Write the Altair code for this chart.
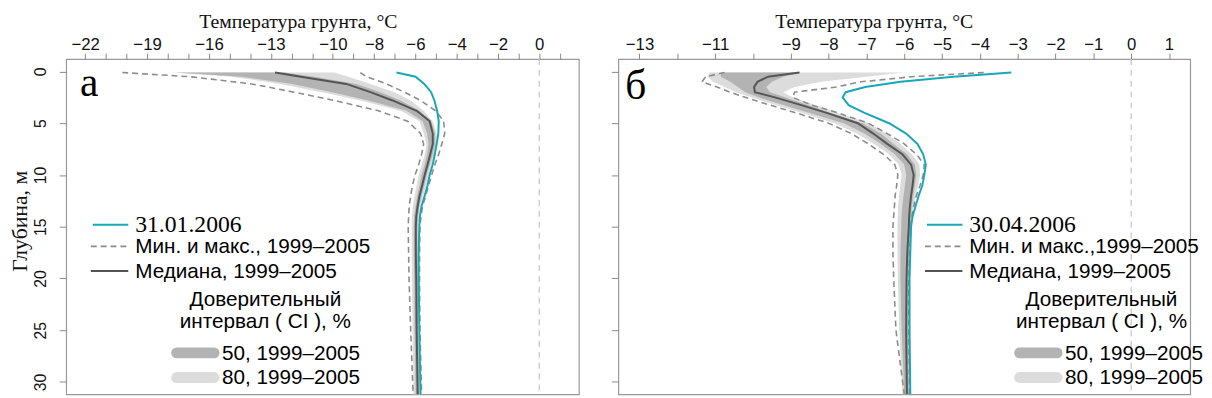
import altair as alt
import pandas as pd

# ---------------- Panel а : 31.01.2006 ----------------
depth_a = [0.1, 0.5, 1.2, 2.0, 2.8, 3.8, 4.8, 6.0, 7.0, 8.0, 9.0, 10.0, 11.0, 12.0, 13.0, 14.0, 15.0, 17.5, 20.0, 25.0, 31.2]
obs_a = [-6.92, -5.99, -5.57, -5.24, -5.08, -4.95, -4.87, -4.89, -4.97, -5.06, -5.16, -5.31, -5.41, -5.55, -5.70, -5.78, -5.81, -5.84, -5.84, -5.81, -5.75]
med_a = [-12.8, -11.55, -9.35, -8.18, -7.11, -5.94, -5.31, -5.16, -5.16, -5.28, -5.41, -5.55, -5.67, -5.80, -5.89, -5.96, -5.98, -5.98, -5.96, -5.94, -5.89]
min_a = [-20.2, -16.95, -13.93, -11.88, -9.93, -7.79, -6.38, -5.75, -5.60, -5.70, -5.84, -6.02, -6.14, -6.23, -6.30, -6.33, -6.35, -6.33, -6.31, -6.23, -6.11]
max_a = [-8.67, -8.38, -7.40, -6.53, -5.75, -5.02, -4.63, -4.58, -4.72, -4.87, -5.06, -5.21, -5.36, -5.50, -5.65, -5.73, -5.78, -5.80, -5.80, -5.78, -5.70]
p10_a = [-17.8, -14.90, -12.56, -10.52, -8.67, -6.72, -5.80, -5.60, -5.47, -5.55, -5.70, -5.84, -5.94, -6.04, -6.12, -6.17, -6.18, -6.18, -6.17, -6.14, -6.09]
p25_a = [-17.6, -14.42, -11.98, -10.03, -8.28, -6.43, -5.65, -5.43, -5.36, -5.43, -5.55, -5.70, -5.80, -5.91, -5.99, -6.06, -6.08, -6.08, -6.06, -6.04, -5.99]
p75_a = [-12.35, -10.91, -8.86, -7.69, -6.72, -5.80, -5.24, -5.05, -5.05, -5.16, -5.31, -5.45, -5.57, -5.70, -5.81, -5.87, -5.90, -5.90, -5.88, -5.86, -5.81]
p90_a = [-9.93, -9.25, -8.18, -7.01, -6.23, -5.60, -5.16, -4.97, -4.92, -5.05, -5.21, -5.36, -5.47, -5.62, -5.75, -5.81, -5.84, -5.84, -5.82, -5.81, -5.75]
xticks_a = [-22, -21, -20, -19, -18, -17, -16, -15, -14, -13, -12, -11, -10, -9, -8, -7, -6, -5, -4, -3, -2, -1, 0, 1]
xlabels_a = [-22, -19, -16, -13, -10, -8, -6, -4, -2, 0]

# ---------------- Panel б : 30.04.2006 ----------------
depth_b = [0.1, 0.5, 1.0, 1.5, 2.0, 2.5, 3.25, 4.0, 5.0, 6.0, 7.0, 8.0, 9.0, 10.0, 11.0, 12.0, 13.0, 14.0, 15.0, 17.5, 20.0, 25.0, 31.2]
obs_b = [-3.17, -4.7, -6.1, -7.03, -7.55, -7.63, -7.47, -7.05, -6.4, -5.95, -5.65, -5.5, -5.43, -5.47, -5.52, -5.62, -5.7, -5.78, -5.82, -5.84, -5.86, -5.86, -5.84]
med_b = [-8.77, -9.6, -9.88, -9.97, -9.95, -9.42, -8.72, -8.05, -7.23, -6.82, -6.45, -6.05, -5.82, -5.75, -5.78, -5.82, -5.85, -5.87, -5.88, -5.92, -5.94, -5.95, -5.93]
min_b = [-10.75, -11.25, -11.35, -10.95, -10.6, -10.2, -9.55, -8.86, -8.0, -7.4, -6.95, -6.55, -6.25, -6.17, -6.2, -6.24, -6.26, -6.28, -6.3, -6.3, -6.28, -6.22, -6.0]
max_b = [-3.9, -5.8, -7.15, -7.8, -8.9, -8.95, -8.45, -7.75, -6.95, -6.45, -6.0, -5.68, -5.47, -5.5, -5.58, -5.68, -5.75, -5.8, -5.83, -5.86, -5.88, -5.88, -5.86]
p10_b = [-11.15, -11.2, -11.05, -10.75, -10.45, -10.05, -9.4, -8.7, -7.85, -7.25, -6.8, -6.4, -6.15, -6.07, -6.1, -6.14, -6.16, -6.17, -6.18, -6.18, -6.17, -6.13, -6.05]
p25_b = [-10.85, -10.85, -10.6, -10.4, -10.2, -9.85, -9.2, -8.5, -7.6, -7.05, -6.62, -6.25, -6.0, -5.95, -5.98, -6.02, -6.05, -6.07, -6.08, -6.1, -6.1, -6.07, -6.0]
p75_b = [-8.75, -9.2, -9.5, -9.65, -9.55, -9.15, -8.55, -7.95, -7.1, -6.62, -6.28, -5.93, -5.72, -5.68, -5.72, -5.76, -5.8, -5.82, -5.84, -5.87, -5.89, -5.9, -5.88]
p90_b = [-6.0, -7.0, -8.2, -8.9, -9.2, -8.95, -8.35, -7.75, -6.92, -6.48, -6.1, -5.8, -5.6, -5.58, -5.63, -5.7, -5.76, -5.79, -5.81, -5.84, -5.86, -5.87, -5.85]
xticks_b = [-13, -12, -11, -10, -9, -8, -7, -6, -5, -4, -3, -2, -1, 0, 1]
xlabels_b = [-13, -11, -9, -8, -7, -6, -5, -4, -3, -2, -1, 0, 1]

depth_ticks = [0, 5, 10, 15, 20, 25, 30]

SERIF = "Liberation Serif"
SANS = "Liberation Sans"
CYAN = "#17a8b7"
MED = "#555555"
MINMAX = "#8c8c8c"
CI50 = "#b3b3b3"
CI80 = "#dcdcdc"
ZERO = "#c8c8c8"


def label_expr(labels):
    arr = ",".join(str(v) for v in labels)
    return f"indexof([{arr}], datum.value) >= 0 ? format(datum.value, 'd') : ''"


def one():
    return pd.DataFrame({"k": [0]})


def text_mark(txt, x, y, font, size, align="left"):
    return alt.Chart(one()).mark_text(
        text=txt, font=font, fontSize=size, align=align, baseline="middle", color="black"
    ).encode(x=alt.value(x), y=alt.value(y))


def sample_line(x1, x2, y, color, width, dash=None, cap="butt"):
    kw = dict(color=color, strokeWidth=width, strokeCap=cap)
    if dash:
        kw["strokeDash"] = dash
    return alt.Chart(one()).mark_rule(**kw).encode(
        x=alt.value(x1), x2=alt.value(x2), y=alt.value(y)
    )


def make_panel(depth, obs, med, mn, mx, p10, p25, p75, p90, xdom, xticks, xlabels,
               width, title_x, letter, letter_xy, obs_label, minmax_label, lx, ci_cx, band_x, show_y):
    xs = alt.Scale(domain=xdom, nice=False, zero=False)
    ys = alt.Scale(domain=[-1.2, 31.2], reverse=True, nice=False, zero=False)
    xaxis = alt.Axis(orient="top", values=xticks, labelExpr=label_expr(xlabels),
                     title="Температура грунта, °C", titleX=title_x, titleAlign="center",
                     labelOverlap=False, labelFlush=False)
    if show_y:
        yaxis = alt.Axis(orient="left", values=depth_ticks, title="Глубина, м", labelAngle=-90,
                         labelAlign="center", labelBaseline="bottom", labelOverlap=False,
                         titleY=164, titleAlign="center")
    else:
        yaxis = alt.Axis(orient="left", values=depth_ticks, labels=False, title="")

    def X(field):
        return alt.X(field, scale=xs, axis=xaxis, stack=None)

    def Y(field):
        return alt.Y(field, scale=ys, axis=yaxis, stack=None)

    bands = pd.DataFrame({"depth": depth, "p10": p10, "p25": p25, "p75": p75, "p90": p90})
    band80 = alt.Chart(bands).mark_area(color=CI80, orient="horizontal").encode(
        x=X("p10:Q"), x2="p90:Q", y=Y("depth:Q"))
    band50 = alt.Chart(bands).mark_area(color=CI50, orient="horizontal").encode(
        x=X("p25:Q"), x2="p75:Q", y=Y("depth:Q"))

    def line(vals, color, w, dash=None):
        df = pd.DataFrame({"depth": depth, "t": vals})
        kw = dict(color=color, strokeWidth=w)
        if dash:
            kw["strokeDash"] = dash
        return alt.Chart(df).mark_line(**kw).encode(
            x=X("t:Q"), y=Y("depth:Q"), order=alt.Order("depth:Q"))

    zero = alt.Chart(pd.DataFrame({"z": [0]})).mark_rule(
        color=ZERO, strokeDash=[6, 5], strokeWidth=1.3).encode(x=X("z:Q"))

    layers = [
        band80, band50, zero,
        line(mn, MINMAX, 1.6, [6, 4]),
        line(mx, MINMAX, 1.6, [6, 4]),
        line(med, MED, 2.0),
        line(obs, CYAN, 2.0),
        text_mark(letter, letter_xy[0], letter_xy[1], SERIF, 42),
        # legend
        sample_line(lx, lx + 36, 168, CYAN, 2),
        text_mark(obs_label, lx + 43, 168, SERIF, 24),
        sample_line(lx - 2, lx + 36, 190, MINMAX, 1.6, [6, 4]),
        text_mark(minmax_label, lx + 43, 191, SANS, 21),
        sample_line(lx - 2, lx + 36, 215, MED, 2),
        text_mark("Медиана, 1999–2005", lx + 43, 216, SANS, 21),
        text_mark("Доверительный", ci_cx, 244, SANS, 21, align="center"),
        text_mark("интервал ( CI ), %", ci_cx, 267, SANS, 21, align="center"),
        sample_line(band_x, band_x + 38, 298, CI50, 11, cap="round"),
        text_mark("50, 1999–2005", band_x + 46, 299, SANS, 21),
        sample_line(band_x, band_x + 38, 323, CI80, 11, cap="round"),
        text_mark("80, 1999–2005", band_x + 46, 324, SANS, 21),
    ]
    return alt.layer(*layers).properties(width=width, height=340)


panel_a = make_panel(depth_a, obs_a, med_a, min_a, max_a, p10_a, p25_a, p75_a, p90_a,
                     [-22.92, 1.92], xticks_a, xlabels_a, 520, 235, "а", (14, 24),
                     "31.01.2006", "Мин. и макс., 1999–2005", 27, 202, 112, True)
panel_b = make_panel(depth_b, obs_b, med_b, min_b, max_b, p10_b, p25_b, p75_b, p90_b,
                     [-13.56, 1.56], xticks_b, xlabels_b, 580, 259, "б", (7, 27),
                     "30.04.2006", "Мин. и макс.,1999–2005", 313, 490, 407, False)

chart = alt.hconcat(panel_a, panel_b, spacing=30).properties(
    padding={"left": 0, "top": 0, "right": 0, "bottom": 0}
).configure_view(stroke="#999999", strokeWidth=1.2).configure_axis(
    domain=False, grid=False, ticks=True, tickColor="#888888", tickSize=7, tickWidth=1,
    labelFont=SANS, labelFontSize=17, labelColor="#111111", labelOverlap=False,
    titleFont=SERIF, titleFontSize=20, titleFontWeight="normal", titleColor="#111111"
).configure_axisTop(labelPadding=0, titlePadding=4, tickSize=6).configure_axisLeft(
    labelFontSize=16, labelPadding=11, titlePadding=1, titleFontSize=22
)

chart.save("out.html", embed_options={"renderer": "svg", "actions": False})
